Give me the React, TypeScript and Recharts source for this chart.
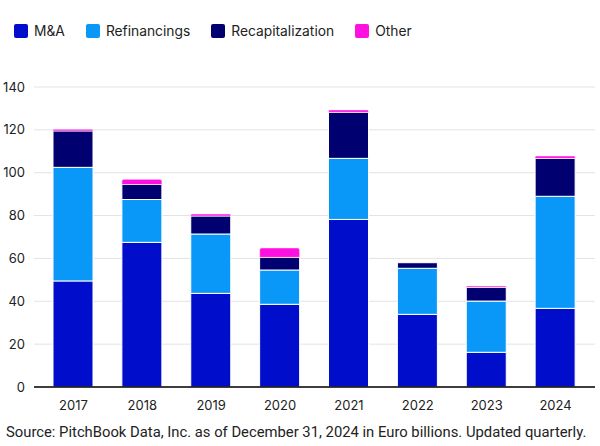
import { BarChart, Bar, XAxis, YAxis, CartesianGrid } from 'recharts'

const years = ['2017', '2018', '2019', '2020', '2021', '2022', '2023', '2024']
const mna = [49.5, 67.5, 43.7, 38.6, 78.2, 33.9, 16.2, 36.7]
const refinancings = [53, 20, 27.7, 16, 28.5, 21.5, 23.9, 52.3]
const recaps = [17, 7, 8.4, 5.9, 21.5, 2.6, 6.4, 17.7]
const other = [0.8, 2.4, 0.9, 4.4, 1.1, 0, 0.6, 1.1]
const yTicks = [0, 20, 40, 60, 80, 100, 120, 140]

const MNA = '#000ECC'
const REFI = '#0A98F8'
const RECAP = '#000070'
const OTHER = '#FF10E0'

const legendItems = [
  { name: 'M&A', color: MNA },
  { name: 'Refinancings', color: REFI },
  { name: 'Recapitalization', color: RECAP },
  { name: 'Other', color: OTHER },
]

const data = years.map((year, i) => ({
  year,
  mna: mna[i],
  refi: refinancings[i],
  recap: recaps[i],
  other: other[i],
}))

const FONT = 'Inter, "Noto Sans", sans-serif'

export default function App() {
  return (
    <div style={{ position: 'fixed', left: 0, top: 0, width: 600, height: 446, background: '#fff', fontFamily: FONT }}>
      {/* legend */}
      <div style={{ position: 'absolute', left: 14, top: 23, display: 'flex', alignItems: 'center', fontSize: 13.8, color: '#222' }}>
        {legendItems.map((item) => (
          <div key={item.name} style={{ display: 'flex', alignItems: 'center', marginRight: 21 }}>
            <div style={{ width: 14, height: 14, borderRadius: 2, background: item.color, marginRight: 6 }} />
            <span>{item.name}</span>
          </div>
        ))}
      </div>

      <div style={{ position: 'absolute', left: 0, top: 0 }}>
        <BarChart width={600} height={446} data={data} margin={{ top: 87, right: 5, left: 0, bottom: 29 }} barSize={40}>
          <CartesianGrid vertical={false} stroke="#e3e3e3" />
          <XAxis
            dataKey="year"
            height={30}
            padding={{ left: 5, right: 5 }}
            axisLine={{ stroke: '#000', strokeWidth: 1.5 }}
            tickLine={false}
            tick={{ fontSize: 13, fill: '#222', fontFamily: FONT }}
            tickMargin={8}
          />
          <YAxis
            width={34}
            domain={[0, 140]}
            ticks={yTicks}
            axisLine={false}
            tickLine={false}
            tick={{ fontSize: 13, fill: '#222', fontFamily: FONT }}
            tickMargin={3}
          />
          <Bar dataKey="mna" stackId="a" fill={MNA} stroke="#fff" strokeWidth={1} isAnimationActive={false} />
          <Bar dataKey="refi" stackId="a" fill={REFI} stroke="#fff" strokeWidth={1} isAnimationActive={false} />
          <Bar dataKey="recap" stackId="a" fill={RECAP} stroke="#fff" strokeWidth={1} isAnimationActive={false} />
          <Bar dataKey="other" stackId="a" fill={OTHER} stroke="#fff" strokeWidth={0.5} radius={[2, 2, 0, 0]} isAnimationActive={false} />
        </BarChart>
      </div>

      {/* source note */}
      <div style={{ position: 'absolute', left: 6, top: 423, fontSize: 14.8, color: '#222', fontFamily: 'Roboto, sans-serif', whiteSpace: 'nowrap' }}>
        Source: PitchBook Data, Inc. as of December 31, 2024 in Euro billions. Updated quarterly.
      </div>
    </div>
  )
}
